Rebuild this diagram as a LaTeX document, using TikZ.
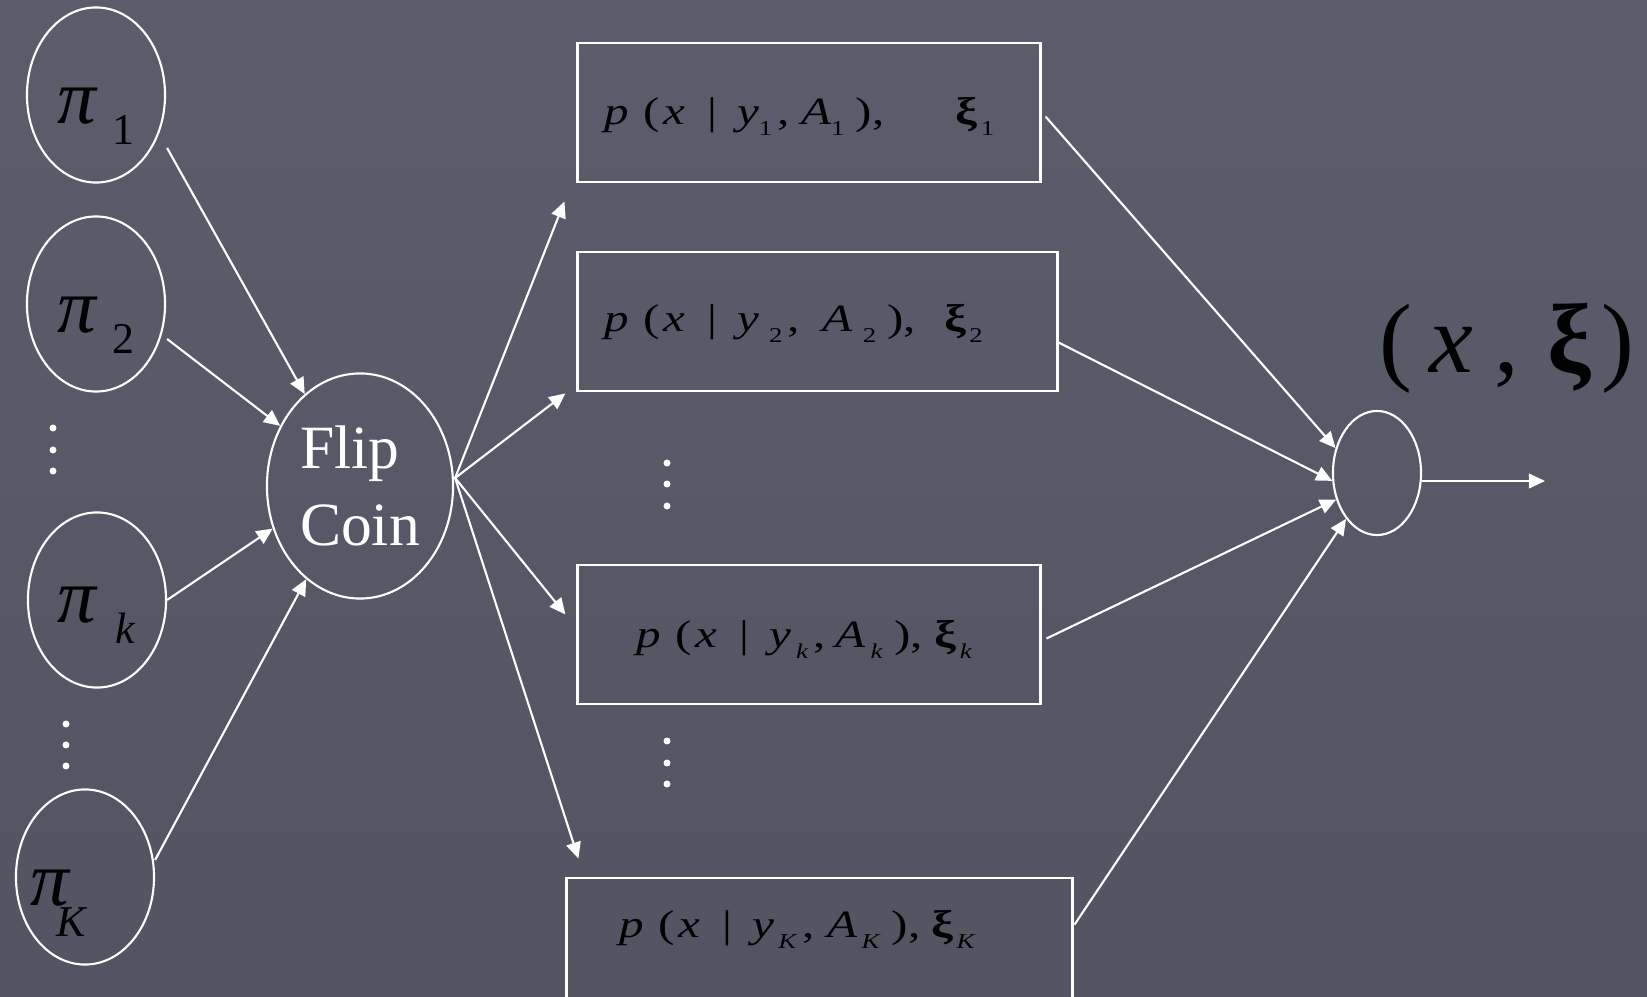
\documentclass[tikz,border=0pt]{standalone}
\usepackage{fontspec}
\setmainfont{Liberation Serif}
\usetikzlibrary{shapes.geometric,arrows.meta}

\definecolor{slatetop}{RGB}{91,93,108}
\definecolor{slatebot}{RGB}{82,84,98}

% small lowered index
\newcommand{\lsub}[1]{\raisebox{-3pt}{\fontsize{6}{6}\selectfont #1}}
% component density with its parameter (stretched a bit, like the slide)
% #1 index, #2 gap before index, #3 gap after comma, #4 gap before xi
\newcommand{\dens}[4]{\scalebox{1.27}[1]{\textit{p}\hspace{3.3pt}(\hspace{0.8pt}\textit{x}\hspace{4.9pt}|\hspace{4.5pt}\textit{y}\hspace{#2}\lsub{#1}\hspace{1.2pt},\hspace{#3}\textit{A}\hspace{#2}\lsub{#1}\hspace{2.5pt}),\hspace{#4}\textbf{ξ}\hspace{0.7pt}\lsub{#1}}}
% mixing weight
\newcommand{\weight}[3]{\textit{π}\hspace{#2}\raisebox{#3}{\fontsize{12.5}{12.5}\selectfont #1}}

\begin{document}
\begin{tikzpicture}[
  x=0.01cm, y=-0.01cm,
  prior/.style={
    draw=white,
    line width=0.6pt,
    ellipse,
    inner sep=0pt,
    minimum width=1.38cm,
    minimum height=1.75cm,
    text height=16pt,
    text depth=0pt,
    font=\fontsize{22}{22}\selectfont
  },
  coin/.style={
    prior,
    minimum width=1.86cm,
    minimum height=2.25cm,
    text height=,
    text depth=,
    text=white,
    align=left,
    font=\fontsize{17.5}{22}\selectfont
  },
  dbox/.style={
    draw=white,
    line width=0.8pt,
    rectangle,
    minimum width=4.62cm,
    minimum height=1.39cm
  },
  formula/.style={
    anchor=base west,
    inner sep=0pt,
    font=\fontsize{11}{11}\selectfont
  },
  arr/.style={
    white,
    line width=0.6pt,
    -{Triangle[length=4.6pt,width=4.2pt]}
  }
]%
\useasboundingbox (0,0) rectangle (1647,997);
\clip (0,0) rectangle (1647,997);
\shade[top color=slatetop, bottom color=slatebot] (0,0) rectangle (1647,997);

% mixing weights
\node [prior] (p1) at (96,95)  {\weight{1}{4pt}{-6pt}};
\node [prior] (p2) at (96,304) {\weight{2}{4pt}{-6pt}};
\node [prior, text height=13pt] (pk) at (97,600) {\weight{\textit{k}}{5pt}{-6pt}};
\node [prior] (pK) at (85,877) {\makebox[0pt][l]{\hspace{-15.5pt}\weight{\textit{K}}{-4.1pt}{-9pt}}};

\node [coin] (flip) at (360,486) {Flip\\Coin};

% component boxes
\node [dbox] (b1) at (809,112.5) {};
\node [dbox, minimum width=4.79cm] (b2) at (817.5,321.5) {};
\node [dbox] (bk) at (809,634.5) {};
\node [dbox, minimum width=5.05cm] (bK) at (819.5,947.5) {};

\node [formula] (f1) at ([shift={(27,12)}]b1.west) {\dens{1}{0pt}{2.5pt}{16pt}};
\node [formula] (f2) at ([shift={(27,10)}]b2.west) {\dens{2}{2.3pt}{5pt}{6.3pt}};
\node [formula] (fk) at ([shift={(59,13)}]bk.west) {\dens{\textit{k}}{1.2pt}{2pt}{2.7pt}};
\node [formula] (fK) at ([shift={(53,-10)}]bK.west) {\dens{\textit{K}}{1pt}{2.7pt}{2.5pt}};

\node [prior, minimum width=0.88cm, minimum height=1.24cm, text height=] (comb) at (1377,473) {};
\coordinate (out) at (1545,481);
\node [anchor=base, inner sep=0pt, font=\fontsize{28}{28}\selectfont] (pair) at (1507,373)
  {(\hspace{5pt}\textit{x}\hspace{6pt},\hspace{8pt}\textbf{ξ}\hspace{3pt})};

% dots
\foreach \x/\y in {53/428, 53/450, 53/471, 66/724, 66/745, 66/766,
                   667/463, 667/484, 667/506, 667/741, 667/763, 667/784}
  \fill[white] (\x,\y) circle (3.5);

% weights into the coin
\draw[arr] ([shift={(1,53)}]p1.east) -- (flip.121);
\draw[arr] ([shift={(1,35)}]p2.east) -- (flip.143);
\draw[arr] (pk.east) -- (flip.206);
\draw[arr] ([shift={(0,-17)}]pK.east) -- (flip.240);

% coin into components
\draw[arr] ([shift={(1,-8)}]flip.east) -- ([shift={(-12,18)}]b1.south west);
\draw[arr] ([shift={(1,-8)}]flip.east) -- ([shift={(-11,1)}]b2.south west);
\draw[arr] ([shift={(1,-8)}]flip.east) -- ([shift={(-11,-20)}]bk.west);
\draw[arr] ([shift={(1,-8)}]flip.east) -- ([shift={(13,-18)}]bK.north west);

% components into the output
\draw[arr] ([shift={(4,4)}]b1.east) -- (comb.149);
\draw[arr] ([shift={(0,21)}]b2.east) -- (comb.190);
\draw[arr] ([shift={(5,4)}]bk.east) -- (comb.213);
\draw[arr] ([shift={(1,48)}]bK.north east) -- (comb.236);
\draw[arr] ([shift={(0,8)}]comb.east) -- (out);
\end{tikzpicture}
\end{document}
